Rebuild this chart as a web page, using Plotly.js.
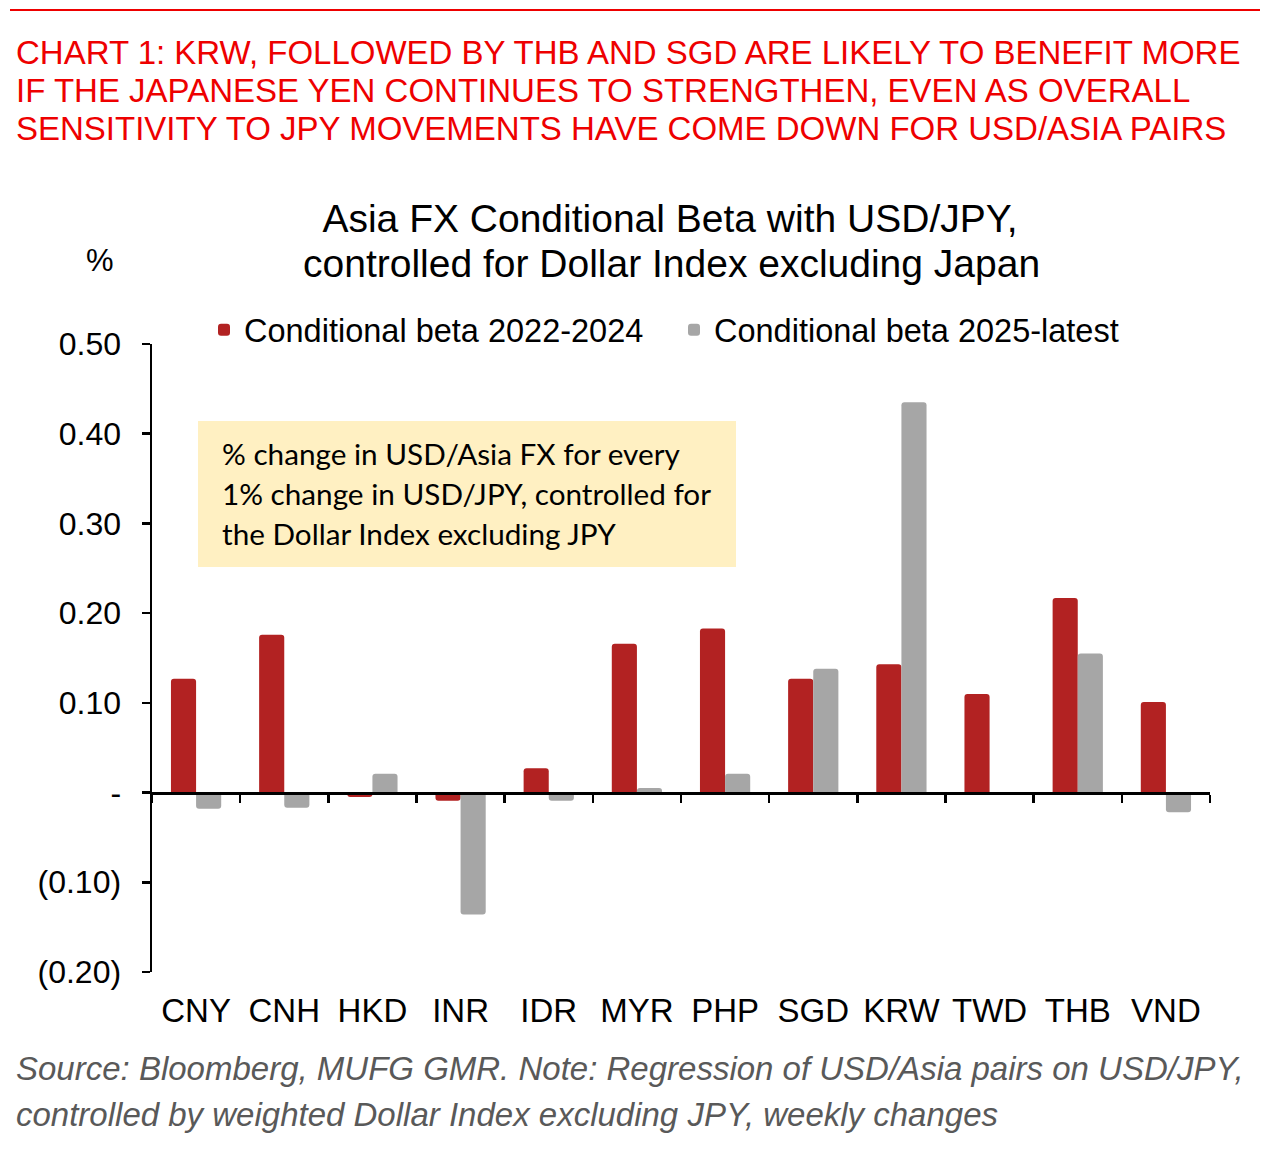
<!DOCTYPE html>
<html>
<head>
<meta charset="utf-8">
<script src="https://cdn.plot.ly/plotly-3.0.1.min.js"></script>
<style>
  body { margin: 0; background: #fff; }
  #chart { width: 1285px; height: 1151px; }
</style>
</head>
<body>
<div id="chart"></div>
<script>
// Data
const currencies = ['CNY', 'CNH', 'HKD', 'INR', 'IDR', 'MYR', 'PHP', 'SGD', 'KRW', 'TWD', 'THB', 'VND'];
const beta2022to2024 = [0.127, 0.176, -0.005, -0.009, 0.027, 0.166, 0.183, 0.127, 0.143, 0.110, 0.217, 0.101];
const beta2025latest = [-0.018, -0.017, 0.021, -0.136, -0.009, 0.005, 0.021, 0.138, 0.435, 0, 0.155, -0.022];
const yTickVals = [-0.2, -0.1, 0, 0.1, 0.2, 0.3, 0.4, 0.5];
const yTickText = ['(0.20)', '(0.10)', '-', '0.10', '0.20', '0.30', '0.40', '0.50'];

const headline = [
  'CHART 1: KRW, FOLLOWED BY THB AND SGD ARE LIKELY TO BENEFIT MORE',
  'IF THE JAPANESE YEN CONTINUES TO STRENGTHEN, EVEN AS OVERALL',
  'SENSITIVITY TO JPY MOVEMENTS HAVE COME DOWN FOR USD/ASIA PAIRS'
];
const chartTitle = [
  'Asia FX Conditional Beta with USD/JPY,',
  'controlled for Dollar Index excluding Japan'
];
const noteLines = [
  '% change in USD/Asia FX for every',
  '1% change in USD/JPY, controlled for',
  'the Dollar Index excluding JPY'
];
const sourceLines = [
  'Source: Bloomberg, MUFG GMR. Note: Regression of USD/Asia pairs on USD/JPY,',
  'controlled by weighted Dollar Index excluding JPY, weekly changes'
];

// pixel helpers (plot area 152..1210 x, 344..972 y)
const L = 152, R = 1210, T = 344, B = 972;
const px = (x) => (x - L) / (R - L);
const py = (y) => (B - y) / (B - T);

const arial = 'Liberation Sans, Arial, sans-serif';

var trace1 = {
  x: currencies,
  y: beta2022to2024,
  type: 'bar',
  name: 'Conditional beta 2022-2024',
  marker: { color: '#B22222' },
  hoverinfo: 'x+y'
};

var trace2 = {
  x: currencies,
  y: beta2025latest,
  type: 'bar',
  name: 'Conditional beta 2025-latest',
  marker: { color: '#A6A6A6' },
  hoverinfo: 'x+y'
};

// invisible helper so the zero-line axis (x2) gets drawn
var zeroAxisHelper = {
  x: currencies,
  y: beta2022to2024,
  xaxis: 'x2',
  type: 'scatter',
  mode: 'markers',
  marker: { opacity: 0 },
  hoverinfo: 'skip',
  showlegend: false
};

let annotations = [];

headline.forEach((line, i) => {
  annotations.push({
    text: line, xref: 'paper', yref: 'paper',
    x: px(14), y: py(52 + i * 38), xanchor: 'left', yanchor: 'middle',
    showarrow: false, font: { family: arial, size: 33, color: '#EE0000' }
  });
});

// second title line (first one is layout.title)
annotations.push({
  text: chartTitle[1], xref: 'paper', yref: 'paper',
  x: px(671), y: py(263), xanchor: 'center', yanchor: 'middle',
  showarrow: false, font: { family: arial, size: 39, color: '#000' }
});

noteLines.forEach((line, i) => {
  annotations.push({
    text: line, xref: 'paper', yref: 'paper',
    x: px(220), y: py(453 + i * 40), xanchor: 'left', yanchor: 'middle',
    showarrow: false, font: { family: 'Lato, sans-serif', size: 29.7, color: '#000' }
  });
});

sourceLines.forEach((line, i) => {
  annotations.push({
    text: '<i>' + line + '</i>', xref: 'paper', yref: 'paper',
    x: px(14), y: py(1068 + i * 46), xanchor: 'left', yanchor: 'middle',
    showarrow: false, font: { family: arial, size: 33, color: '#595959' }
  });
});

annotations.push({
  text: '%', xref: 'paper', yref: 'paper',
  x: px(100), y: py(260), xanchor: 'center', yanchor: 'middle',
  showarrow: false, font: { family: arial, size: 31, color: '#000' }
});

var layout = {
  width: 1285,
  height: 1151,
  margin: { l: L, r: 1285 - R, t: T, b: 1151 - B },
  paper_bgcolor: '#fff',
  plot_bgcolor: 'rgba(0,0,0,0)',
  font: { family: arial, color: '#000' },
  barmode: 'group',
  bargap: 0.43,
  bargroupgap: 0,
  barcornerradius: 3,

  title: {
    text: chartTitle[0],
    font: { family: arial, size: 39, color: '#000' },
    xref: 'container', x: 670 / 1285, xanchor: 'center',
    yref: 'container', y: 1 - 218 / 1151, yanchor: 'middle'
  },

  xaxis: {
    type: 'category',
    categoryarray: currencies,
    range: [-0.5, 11.5],
    showline: false,
    showgrid: false,
    zeroline: false,
    ticks: '',
    ticklabelstandoff: 16,
    tickfont: { family: arial, size: 33, color: '#000' }
  },

  // zero line with boundary ticks
  xaxis2: {
    type: 'category',
    categoryarray: currencies,
    range: [-0.5, 11.5],
    overlaying: 'x',
    anchor: 'free',
    position: py(793),
    showline: true,
    linecolor: '#000',
    linewidth: 2.5,
    showgrid: false,
    zeroline: false,
    ticks: 'outside',
    tickson: 'boundaries',
    ticklen: 8,
    tickwidth: 2.5,
    tickcolor: '#000',
    showticklabels: false
  },

  yaxis: {
    range: [-0.2, 0.5],
    tickvals: yTickVals,
    ticktext: yTickText,
    showline: true,
    linecolor: '#000',
    linewidth: 2.5,
    showgrid: false,
    zeroline: false,
    ticks: 'outside',
    ticklen: 8,
    tickwidth: 2.5,
    tickcolor: '#000',
    ticklabelstandoff: 14,
    tickfont: { family: arial, size: 32, color: '#000' }
  },

  showlegend: true,
  legend: {
    orientation: 'h',
    x: px(204), xanchor: 'left',
    y: py(330), yanchor: 'middle',
    font: { family: arial, size: 32.5, color: '#000' },
    entrywidth: 425,
    entrywidthmode: 'pixels',
    itemwidth: 30,
    bgcolor: 'rgba(0,0,0,0)'
  },

  shapes: [
    {
      type: 'line', xref: 'paper', yref: 'paper', layer: 'above',
      x0: px(10), x1: px(1260), y0: py(10), y1: py(10),
      line: { color: '#EE0000', width: 2 }
    },
    {
      type: 'rect', xref: 'paper', yref: 'paper', layer: 'below',
      x0: px(198), x1: px(736), y0: py(567), y1: py(421),
      fillcolor: '#FFF0C2', line: { width: 0 }
    }
  ],

  annotations: annotations
};

Plotly.newPlot('chart', [trace1, trace2, zeroAxisHelper], layout, { displayModeBar: false, staticPlot: true });
</script>
</body>
</html>
